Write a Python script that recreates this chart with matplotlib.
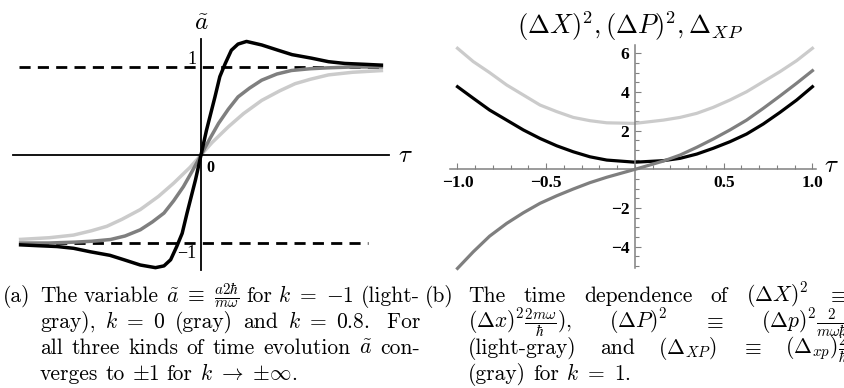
import numpy as np
import matplotlib
matplotlib.use('Agg')
import matplotlib.pyplot as plt
from matplotlib.transforms import IdentityTransform

plt.rcParams['mathtext.fontset'] = 'cm'
plt.rcParams['axes.unicode_minus'] = False

# panel (a): a~ against tau
tau_k08 = [-3.0, -2.7, -2.37, -2.1, -1.82, -1.5, -1.27, -1.0, -0.75, -0.61, -0.5, -0.4, -0.31, -0.23, -0.09, 0.0,
           0.09, 0.23, 0.31, 0.4, 0.5, 0.61, 0.75, 1.0, 1.27, 1.5, 1.82, 2.1, 2.37, 2.7, 3.0]
a_k08 = [-1.02, -1.03, -1.04, -1.06, -1.1, -1.14, -1.19, -1.25, -1.28, -1.26, -1.19, -1.04, -0.89, -0.66, -0.28, 0.0,
         0.28, 0.66, 0.89, 1.04, 1.19, 1.26, 1.29, 1.25, 1.19, 1.14, 1.1, 1.06, 1.04, 1.03, 1.02]
tau_k0 = [-3.0, -2.5, -2.08, -1.8, -1.49, -1.25, -1.0, -0.8, -0.61, -0.45, -0.29, -0.15, 0.0,
          0.15, 0.29, 0.45, 0.61, 0.8, 1.0, 1.25, 1.49, 1.8, 2.08, 2.5, 3.0]
a_k0 = [-1.0, -1.0, -0.99, -0.98, -0.96, -0.92, -0.85, -0.76, -0.66, -0.52, -0.36, -0.19, 0.0,
        0.19, 0.36, 0.52, 0.66, 0.76, 0.85, 0.92, 0.96, 0.98, 0.99, 1.0, 1.0]
tau_km1 = [-3.0, -2.5, -2.1, -1.8, -1.55, -1.3, -1.0, -0.7, -0.45, -0.18, 0.0,
           0.18, 0.45, 0.7, 1.0, 1.3, 1.55, 1.8, 2.1, 2.5, 3.0]
a_km1 = [-0.96, -0.94, -0.91, -0.86, -0.81, -0.73, -0.62, -0.47, -0.32, -0.14, 0.0,
         0.14, 0.32, 0.47, 0.62, 0.73, 0.81, 0.86, 0.91, 0.94, 0.96]

# panel (b): variances for k = 1
tau_b = [-1.0, -0.911, -0.819, -0.723, -0.629, -0.535, -0.441, -0.348, -0.254, -0.159, 0.0,
         0.16, 0.254, 0.348, 0.441, 0.535, 0.629, 0.723, 0.817, 0.911, 1.0]
dX2 = [4.28, 3.68, 3.07, 2.55, 2.04, 1.6, 1.22, 0.91, 0.65, 0.48, 0.37,
       0.45, 0.57, 0.79, 1.09, 1.43, 1.83, 2.35, 2.95, 3.59, 4.28]
dP2 = [6.27, 5.58, 5.01, 4.37, 3.85, 3.33, 2.99, 2.69, 2.52, 2.41, 2.38,
       2.55, 2.69, 2.9, 3.21, 3.59, 4.02, 4.54, 5.06, 5.63, 6.27]
dXP = [-5.13, -4.27, -3.46, -2.8, -2.25, -1.76, -1.37, -1.02, -0.69, -0.41, 0.0,
       0.43, 0.74, 1.14, 1.57, 2.04, 2.55, 3.16, 3.8, 4.46, 5.11]

xticks_b = [-1.0, -0.5, 0.5, 1.0]
xticklabels_b = ['\u22121.0', '\u22120.5', '0.5', '1.0']
yticks_b = [-4, -2, 2, 4, 6]
yticklabels_b = ['\u22124', '\u22122', '2', '4', '6']

BLACK, GRAY, LIGHT = '#000000', '#7f7f7f', '#cbcbcb'
W, H = 844, 388

fig = plt.figure(figsize=(W / 100, H / 100), dpi=100)

# ---- panel (a)
ax1 = fig.add_axes([12.8 / W, 1 - 270.3 / H, 376.4 / W, 231.5 / H])
ax1.set_xlim(-3.1, 3.1)
ax1.set_ylim(-1.31, 1.32)
for s in ['top', 'right']:
    ax1.spines[s].set_visible(False)
for s in ['left', 'bottom']:
    ax1.spines[s].set_position(('data', 0))
    ax1.spines[s].set_linewidth(1.3)
ax1.set_xticks([])
ax1.set_yticks([])
ax1.patch.set_visible(False)

ax1.plot([-3.0, 3.0], [1, 1], color='k', lw=2, ls=(0, (4, 2.6)))
ax1.plot([-3.0, 2.75], [-1, -1], color='k', lw=2, ls=(0, (4, 2.6)))
ax1.plot(tau_km1, a_km1, color=LIGHT, lw=2.5, solid_capstyle='butt')
ax1.plot(tau_k0, a_k0, color=GRAY, lw=2.5, solid_capstyle='butt')
ax1.plot(tau_k08, a_k08, color=BLACK, lw=2.5, solid_capstyle='butt', clip_on=False)

ax1.text(-0.07, 1.09, '1', ha='right', va='center', fontsize=13, family='Liberation Serif')
ax1.text(-0.07, -1.12, '\u22121', ha='right', va='center', fontsize=13, family='Liberation Serif')
ax1.text(0.09, -0.15, '0', ha='left', va='center', fontsize=11.5, family='Liberation Serif', weight='bold')
ax1.text(3.36, 0.0, r'$\tau$', ha='center', va='center', fontsize=18)
ax1.text(0.0, 1.5, r'$\tilde{a}$', ha='center', va='center', fontsize=18)

# ---- panel (b)
ax2 = fig.add_axes([450.4 / W, 1 - 268 / H, 365.6 / W, 223 / H])
ax2.set_xlim(-1.04, 1.02)
ax2.set_ylim(-5.11, 6.44)
for s in ['top', 'right']:
    ax2.spines[s].set_visible(False)
for s in ['left', 'bottom']:
    ax2.spines[s].set_position(('data', 0))
    ax2.spines[s].set_linewidth(1.1)
    ax2.spines[s].set_color('#808080')
ax2.patch.set_visible(False)
ax2.set_xticks(xticks_b)
ax2.set_xticklabels(xticklabels_b)
ax2.set_xticks(np.arange(-1.0, 1.01, 0.1), minor=True)
ax2.set_yticks(yticks_b)
ax2.set_yticklabels(yticklabels_b)
ax2.set_yticks(np.arange(-5.0, 6.01, 0.5), minor=True)
ax2.tick_params(which='both', direction='in', color='#808080', width=0.8)
ax2.tick_params(which='major', length=4.5)
ax2.tick_params(which='minor', length=2.8)
ax2.tick_params(axis='x', pad=4)
ax2.tick_params(axis='y', pad=4)
for lab in ax2.get_xticklabels() + ax2.get_yticklabels():
    lab.set_family('Liberation Serif')
    lab.set_weight('bold')
    lab.set_fontsize(12.5)

ax2.plot(tau_b, dP2, color=LIGHT, lw=2.3, clip_on=False)
ax2.plot(tau_b, dX2, color=BLACK, lw=2.3, clip_on=False)
ax2.plot(tau_b, dXP, color=GRAY, lw=2.3, clip_on=False)
ax2.text(1.105, 0.2, r'$\tau$', ha='center', va='center', fontsize=18)
fig.text(630 / W, 1 - 26 / H, r'$(\Delta X)^2,(\Delta P)^2,\Delta_{XP}$', ha='center', va='center', fontsize=19)

# ---- captions (justified like the LaTeX source)
cap_size = 15.5
renderer = fig.canvas.get_renderer()


def put_line(tokens, x0, base, width, justify=True):
    texts = [fig.text(0, 0, t, transform=IdentityTransform(), fontsize=cap_size,
                      family='cmr10', va='baseline', ha='left') for t in tokens]
    ws = [t.get_window_extent(renderer).width for t in texts]
    if justify and len(texts) > 1:
        gap = (width - sum(ws)) / (len(texts) - 1)
    else:
        gap = 0.33 * cap_size * 100 / 72
    x = x0
    for t, w in zip(texts, ws):
        t.set_position((x, H - base))
        x += w + gap


cap_a = [
    ['The', 'variable', r'$\tilde{a}\ \equiv\ \frac{a2\hbar}{m\omega}$', 'for', r'$k\ =\ {-}1$', '(light-'],
    ['gray),', r'$k\ =\ 0$', '(gray)', 'and', r'$k\ =\ 0.8.$', ' For'],
    ['all', 'three', 'kinds', 'of', 'time', 'evolution', r'$\tilde{a}$', 'con-'],
    ['verges', 'to', r'${\pm}1$', 'for', r'$k\ \to\ {\pm}\infty$.'],
]
cap_b = [
    ['The', 'time', 'dependence', 'of', r'$(\Delta X)^2$', r'$\equiv$'],
    [r'$(\Delta x)^2\frac{2m\omega}{\hbar}$),', r'$(\Delta P)^2$', r'$\equiv$', r'$(\Delta p)^2\frac{2}{m\omega\hbar}$'],
    ['(light-gray)', 'and', r'$(\Delta_{XP})$', r'$\equiv$', r'$(\Delta_{xp})\frac{2}{\hbar}$'],
    ['(gray)', 'for', r'$k\ =\ 1$.'],
]
baselines = [302, 328, 354, 380]

fig.text(3, H - baselines[0], '(a)', transform=IdentityTransform(), fontsize=cap_size, family='cmr10', va='baseline')
fig.text(425, H - baselines[0], '(b)', transform=IdentityTransform(), fontsize=cap_size, family='cmr10', va='baseline')
for i, line in enumerate(cap_a):
    put_line(line, 40, baselines[i], 380, justify=(i < 3))
for i, line in enumerate(cap_b):
    put_line(line, 468, baselines[i], 380, justify=(i < 3))

fig.savefig('out.png', dpi=100)
